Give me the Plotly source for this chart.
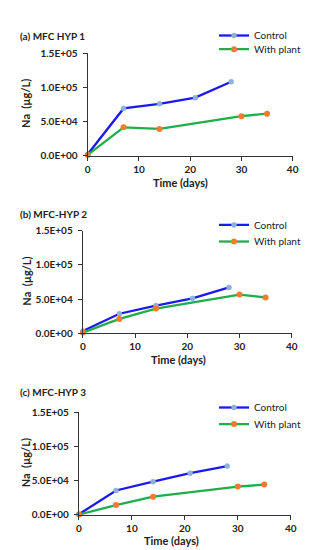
import plotly.graph_objects as go

# ---- data ----
days_control = [0, 7, 14, 21, 28]
days_plant = [0, 7, 14, 30, 35]

a_control = [2000, 69000, 75700, 84800, 108100]
a_plant = [1000, 41400, 39000, 57600, 61400]

b_control = [3300, 28600, 40500, 51000, 67100]
b_plant = [1000, 21000, 36200, 56700, 52400]

c_control = [1000, 35700, 48600, 61000, 71400]
c_plant = [500, 14300, 26700, 41400, 44300]

panel_titles = ["(a) MFC HYP 1", "(b) MFC-HYP 2", "(c) MFC-HYP 3"]
series_names = ["Control", "With plant"]
y_tickvals = [0, 50000, 100000, 150000]
y_ticktext = ["0.0E+00", "5.0E+04", "1.0E+05", "1.5E+05"]
x_tickvals = [0, 10, 20, 30, 40]

W, H = 313, 550
FONT = "Lato"
BLUE = "#1a1aee"
BLUE_MK = "#8fb1e0"
GREEN = "#1fae4b"
ORANGE = "#f27c2e"
TXT = "#222222"


def px(p):
    return p / W


def py(p):
    return 1 - p / H


# pixel geometry: (x0, x1, ytop, ybottom, title_y, legend_y1, legend_y2, xtitle_x, xtitle_y)
panels = [
    (79, 290, 39, 144, 21, 21, 35, 173, 172),
    (74, 289, 221, 326, 204, 215, 232, 170, 353),
    (70, 288, 407, 512, 386, 402, 419, 163, 538),
]
series = [(a_control, a_plant), (b_control, b_plant), (c_control, c_plant)]

fig = go.Figure()
layout = dict(
    width=W, height=H, margin=dict(l=0, r=0, t=0, b=0),
    paper_bgcolor="white", plot_bgcolor="white", showlegend=True,
    font=dict(family=FONT, size=10, color=TXT),
    annotations=[],
)

leg_counter = 0
for i, ((x0, x1, yt, yb, ty, ly1, ly2, xtx, xty), (ctrl, plant)) in enumerate(zip(panels, series)):
    n = "" if i == 0 else str(i + 1)
    xa = "x" + n
    ya = "y" + n
    legs = []
    for ly in (ly1, ly2):
        leg_counter += 1
        lname = "legend" if leg_counter == 1 else "legend" + str(leg_counter)
        legs.append(lname)
        layout[lname] = dict(
            x=px(209), y=py(ly), xanchor="left", yanchor="middle",
            bgcolor="rgba(0,0,0,0)", itemwidth=30,
            font=dict(family=FONT, size=10, color=TXT),
        )
    fig.add_trace(go.Scatter(
        x=days_control, y=ctrl, mode="lines+markers", name=series_names[0],
        line=dict(color=BLUE, width=2.3),
        marker=dict(color=BLUE_MK, size=5, line=dict(color="#7fa6dc", width=0.5)),
        xaxis=xa, yaxis=ya, legend=legs[0], cliponaxis=False, showlegend=True,
    ))
    fig.add_trace(go.Scatter(
        x=days_plant, y=plant, mode="lines+markers", name=series_names[1],
        line=dict(color=GREEN, width=2.3),
        marker=dict(color=ORANGE, size=6),
        xaxis=xa, yaxis=ya, legend=legs[1], cliponaxis=False, showlegend=True,
    ))
    axis_common = dict(
        showgrid=False, zeroline=False, showline=True, linecolor="#333333", linewidth=1.3,
        ticks="outside", ticklen=4, tickwidth=1.2, tickcolor="#333333",
        tickfont=dict(family=FONT, size=10, color=TXT, weight="bold"),
    )
    layout["xaxis" + n] = dict(
        axis_common, domain=[px(x0), px(x1)], range=[0, 40], tickvals=x_tickvals,
        anchor=ya, fixedrange=True,
    )
    layout["yaxis" + n] = dict(
        axis_common, domain=[py(yb), py(yt)], range=[0, 150000],
        tickvals=y_tickvals, ticktext=y_ticktext, anchor=xa, fixedrange=True,
        ticklabelstandoff=3,
    )
    layout["annotations"].append(dict(
        text=panel_titles[i], x=px(7), y=py(ty), xref="paper", yref="paper",
        xanchor="left", yanchor="middle", showarrow=False,
        font=dict(family=FONT, size=10, color=TXT, weight="bold"),
    ))
    layout["annotations"].append(dict(
        text="Na  (µg/L)", x=px(15), y=py((yt + yb) / 2 - 1), xref="paper", yref="paper",
        xanchor="center", yanchor="middle", showarrow=False, textangle=-90,
        font=dict(family=FONT, size=11, color=TXT, weight="bold"),
    ))
    layout["annotations"].append(dict(
        text="Time (days)", x=px(xtx + 2), y=py(xty), xref="paper", yref="paper",
        xanchor="center", yanchor="middle", showarrow=False,
        font=dict(family=FONT, size=11, color=TXT, weight="bold"),
    ))

fig.update_layout(**layout)
fig.write_html("out.html")
